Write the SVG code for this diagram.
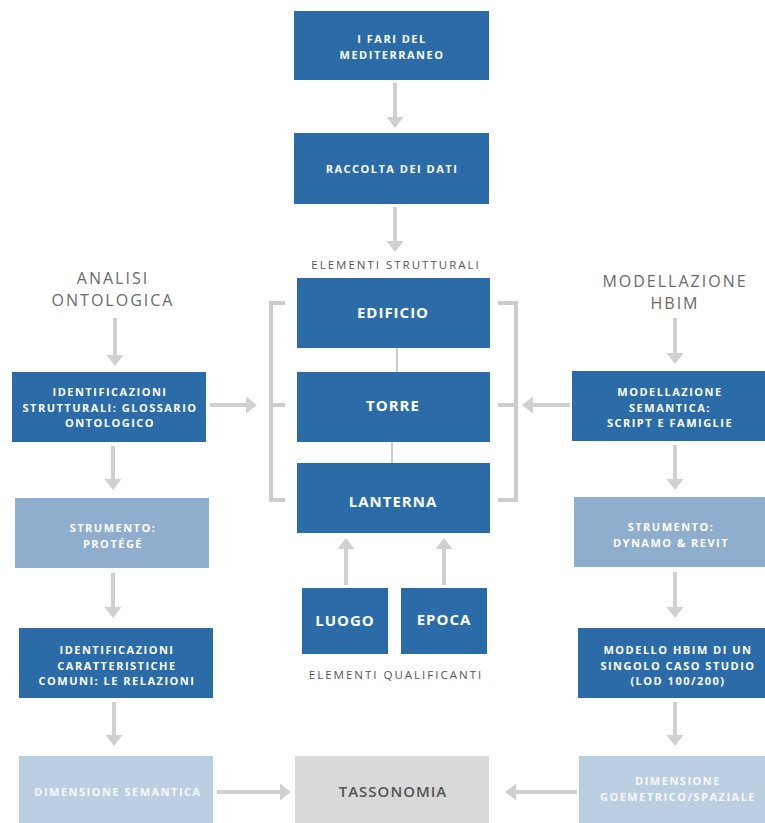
<svg xmlns="http://www.w3.org/2000/svg" width="765" height="823" viewBox="0 0 765 823">
<style>
.b{fill:#2b6ca8}
.m{fill:#8fadcd}
.l{fill:#bccee1}
.g{fill:#d9d9d9}
.t{font-family:"Open Sans","DejaVu Sans",sans-serif;font-weight:700;font-size:11px;letter-spacing:1.5px;fill:#fff;text-anchor:middle}
.tl{font-family:"Open Sans","DejaVu Sans",sans-serif;font-weight:700;font-size:11px;letter-spacing:1.5px;fill:#f6f9fc;text-anchor:middle}
.T{font-family:"Open Sans","DejaVu Sans",sans-serif;font-weight:700;font-size:15px;letter-spacing:1px;fill:#fff;text-anchor:middle}
.h{font-family:"Open Sans","DejaVu Sans",sans-serif;font-weight:400;font-size:16px;letter-spacing:2px;fill:#6a6a6a;text-anchor:middle}
.s{font-family:"Open Sans","DejaVu Sans",sans-serif;font-weight:400;font-size:11.5px;letter-spacing:2px;fill:#555;text-anchor:middle}
.a{stroke:#d0d0d0;stroke-width:4;fill:none;marker-end:url(#ah)}
.k{stroke:#cccccc;stroke-width:4;fill:none}
.c{stroke:#cccccc;stroke-width:2;fill:none}
</style>
<defs>
<marker id="ah" markerUnits="userSpaceOnUse" markerWidth="11" markerHeight="17" viewBox="0 0 11 17" refX="0" refY="8.5" orient="auto">
<path d="M0,0 L11,8.5 L0,17 z" fill="#d0d0d0"/>
</marker>
</defs>

<g id="connectors">
<line class="a" x1="395" y1="83" x2="395" y2="117"/>
<line class="a" x1="395" y1="207" x2="395" y2="241"/>
<line class="a" x1="115" y1="318" x2="115" y2="355"/>
<line class="a" x1="113" y1="446" x2="113" y2="479"/>
<line class="a" x1="113" y1="573" x2="113" y2="607"/>
<line class="a" x1="114" y1="702" x2="114" y2="735"/>
<line class="a" x1="675" y1="318" x2="675" y2="353"/>
<line class="a" x1="675" y1="445" x2="675" y2="479"/>
<line class="a" x1="675" y1="572" x2="675" y2="607"/>
<line class="a" x1="675" y1="702" x2="675" y2="735"/>
<line class="a" x1="210" y1="405" x2="246" y2="405"/>
<line class="a" x1="570" y1="405" x2="533" y2="405"/>
<line class="a" x1="346" y1="585" x2="346" y2="549"/>
<line class="a" x1="444" y1="585" x2="444" y2="549"/>
<line class="a" x1="217" y1="792" x2="280" y2="792"/>
<line class="a" x1="577" y1="792" x2="516" y2="792"/>
<path class="k" d="M285,303 H271 V500 H285 M271,405 H285"/>
<path class="k" d="M498,303 H516 V500 H498 M498,405 H516"/>
<line class="c" x1="397" y1="348" x2="397" y2="372"/>
<line class="c" x1="392" y1="442" x2="392" y2="463"/>
</g>

<g id="fari">
<rect class="b" x="294" y="11" width="195" height="69"/>
<text class="t" x="392" y="43">I FARI DEL</text>
<text class="t" x="392" y="58.5">MEDITERRANEO</text>
</g>
<g id="raccolta">
<rect class="b" x="294" y="133" width="195" height="71"/>
<text class="t" x="392" y="173">RACCOLTA DEI DATI</text>
</g>
<g id="label-strutturali">
<text class="s" x="396" y="269">ELEMENTI STRUTTURALI</text>
</g>
<g id="edificio">
<rect class="b" x="297" y="278" width="193" height="70"/>
<text class="T" x="393" y="317.5">EDIFICIO</text>
</g>
<g id="torre">
<rect class="b" x="297" y="372" width="193" height="70"/>
<text class="T" x="393" y="410.5">TORRE</text>
</g>
<g id="lanterna">
<rect class="b" x="297" y="463" width="193" height="70"/>
<text class="T" x="393" y="506.5">LANTERNA</text>
</g>
<g id="luogo">
<rect class="b" x="302" y="588" width="86" height="66"/>
<text class="T" x="345" y="625.5">LUOGO</text>
</g>
<g id="epoca">
<rect class="b" x="401" y="588" width="86" height="66"/>
<text class="T" x="444" y="624.5">EPOCA</text>
</g>
<g id="label-qualificanti">
<text class="s" x="396" y="679">ELEMENTI QUALIFICANTI</text>
</g>

<g id="analisi">
<text class="h" x="113" y="284">ANALISI</text>
<text class="h" x="113" y="306">ONTOLOGICA</text>
</g>
<g id="ident-strutturali">
<rect class="b" x="12" y="372" width="194" height="70"/>
<text class="t" x="110" y="396">IDENTIFICAZIONI</text>
<text class="t" x="110" y="411.5">STRUTTURALI: GLOSSARIO</text>
<text class="t" x="110" y="427">ONTOLOGICO</text>
</g>
<g id="protege">
<rect class="m" x="15" y="498" width="194" height="70"/>
<text class="t" x="113" y="532">STRUMENTO:</text>
<text class="t" x="113" y="547.5">PROTÉGÉ</text>
</g>
<g id="ident-relazioni">
<rect class="b" x="19" y="628" width="194" height="70"/>
<text class="t" x="117" y="654">IDENTIFICAZIONI</text>
<text class="t" x="117" y="669.5">CARATTERISTICHE</text>
<text class="t" x="117" y="685">COMUNI: LE RELAZIONI</text>
</g>
<g id="dim-semantica">
<rect class="l" x="19" y="756" width="194" height="67"/>
<text class="tl" x="118" y="796">DIMENSIONE SEMANTICA</text>
</g>

<g id="tassonomia">
<rect class="g" x="295" y="756" width="194" height="67"/>
<text class="T" x="393" y="796.5" style="fill:#555;font-weight:600">TASSONOMIA</text>
</g>

<g id="modellazione-hbim">
<text class="h" x="675" y="287">MODELLAZIONE</text>
<text class="h" x="675" y="309">HBIM</text>
</g>
<g id="modellazione-semantica">
<rect class="b" x="572" y="371" width="200" height="70"/>
<text class="t" x="670" y="396">MODELLAZIONE</text>
<text class="t" x="670" y="411.5">SEMANTICA:</text>
<text class="t" x="670" y="427">SCRIPT E FAMIGLIE</text>
</g>
<g id="dynamo">
<rect class="m" x="574" y="497" width="198" height="70"/>
<text class="t" x="671" y="531">STRUMENTO:</text>
<text class="t" x="671" y="547">DYNAMO &amp; REVIT</text>
</g>
<g id="modello-hbim">
<rect class="b" x="578" y="628" width="194" height="70"/>
<text class="t" x="678" y="654">MODELLO HBIM DI UN</text>
<text class="t" x="678" y="669.5">SINGOLO CASO STUDIO</text>
<text class="t" x="678" y="685">(LOD 100/200)</text>
</g>
<g id="dim-geometrico">
<rect class="l" x="579" y="756" width="193" height="67"/>
<text class="tl" x="678" y="785">DIMENSIONE</text>
<text class="tl" x="678" y="800.5">GOEMETRICO/SPAZIALE</text>
</g>
</svg>
